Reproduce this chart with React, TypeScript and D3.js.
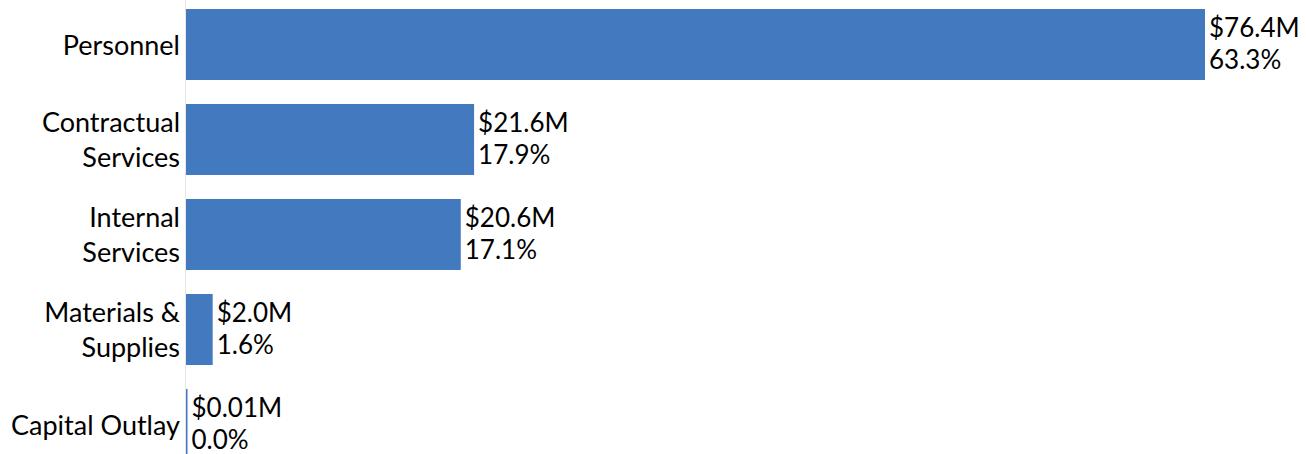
import React, { useLayoutEffect } from "react";
import * as d3 from "d3";

const categories: string[][] = [
  ["Personnel"],
  ["Contractual", "Services"],
  ["Internal", "Services"],
  ["Materials &", "Supplies"],
  ["Capital Outlay"],
];
const amounts: number[] = [76.4, 21.6, 20.6, 2.0, 0.01];
const amountLabels: string[] = ["$76.4M", "$21.6M", "$20.6M", "$2.0M", "$0.01M"];
const shareLabels: string[] = ["63.3%", "17.9%", "17.1%", "1.6%", "0.0%"];

const W = 1306;
const H = 454;
const FONT = "Lato, 'Open Sans', sans-serif";
const BAR = "#4279BF";

export default function App() {
  useLayoutEffect(() => {
    document.body.style.margin = "0";
  }, []);

  const keys = categories.map((c) => c.join(" "));
  const x = d3.scaleLinear().domain([0, 76.4]).range([186, 1205]);
  const y = d3
    .scaleBand<string>()
    .domain(keys)
    .range([-3, 472])
    .paddingInner(24 / 95)
    .paddingOuter(12 / 95);

  return (
    <svg width={W} height={H} style={{ display: "block" }} fontFamily={FONT}>
      <line x1={185.5} x2={185.5} y1={0} y2={H} stroke="#E6E6E6" strokeWidth={1} />
      {keys.map((k, i) => {
        const y0 = y(k)!;
        const bw = y.bandwidth();
        const cy = y0 + bw / 2;
        const w = Math.max(1.5, x(amounts[i]) - x(0));
        const lines = categories[i];
        const lx = x(0) + w + 4;
        return (
          <g key={k}>
            <rect x={x(0)} y={y0} width={w} height={bw} fill={BAR} />
            <text x={lx} y={cy - 7.5} fontSize={26} fill="#000">
              {amountLabels[i]}
            </text>
            <text x={lx} y={cy + 24} fontSize={26} fill="#000">
              {shareLabels[i]}
            </text>
            {lines.length === 1 ? (
              <text x={180} y={cy + 10} fontSize={27} textAnchor="end" fill="#000">
                {lines[0]}
              </text>
            ) : (
              <>
                <text x={180} y={cy - 7.5} fontSize={27} textAnchor="end" fill="#000">
                  {lines[0]}
                </text>
                <text x={180} y={cy + 27.5} fontSize={27} textAnchor="end" fill="#000">
                  {lines[1]}
                </text>
              </>
            )}
          </g>
        );
      })}
    </svg>
  );
}
